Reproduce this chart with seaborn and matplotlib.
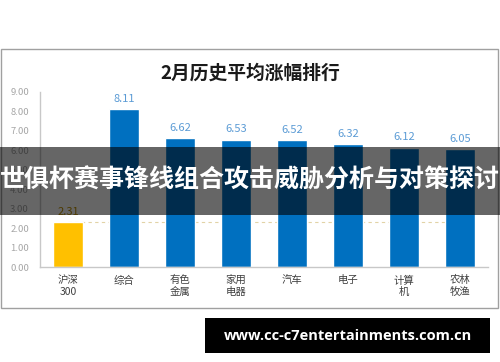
import matplotlib
matplotlib.use('Agg')
import matplotlib.pyplot as plt
import seaborn as sns
from matplotlib.patches import Rectangle

categories = ['沪深\n300', '综合', '有色\n金属', '家用\n电器', '汽车', '电子', '计算\n机', '农林\n牧渔']
values = [2.31, 8.11, 6.62, 6.53, 6.52, 6.32, 6.12, 6.05]
bar_colors = ['#FFC000'] + ['#0070C0'] * 7
label_colors = ['#BF9000'] + ['#5B9BD5'] * 7
y_ticks = [0, 1, 2, 3, 4, 5, 6, 7, 8, 9]

title = '2月历史平均涨幅排行'
banner = '世俱杯赛事锋线组合攻击威胁分析与对策探讨'
url = 'www.cc-c7entertainments.com.cn'

sns.set_style('white')
plt.rcParams['font.family'] = ['Noto Sans CJK SC', 'DejaVu Sans']

fig = plt.figure(figsize=(5, 3.62), dpi=100)
ax = fig.add_axes([0.08, 0.2624, 0.896, 0.4836])

sns.barplot(x=categories, y=values, hue=categories, palette=bar_colors,
            legend=False, width=0.55, saturation=1, ax=ax)

for cont, col in zip(ax.containers, label_colors):
    ax.bar_label(cont, fmt='%.2f', padding=4, color=col, fontsize=8)

# reference line at the index level
ax.hlines(values[0], 0, len(values) - 1, colors='#E2D3A6', linestyles=(0, (3, 3)),
          linewidth=0.8, zorder=0.5)

ax.set_ylim(0, 9)
ax.set_xlim(-0.5, len(values) - 0.5)
ax.set_yticks(y_ticks)
ax.set_yticklabels([f'{t:.2f}' for t in y_ticks], color='#A6A6A6', fontsize=6.8)
ax.tick_params(axis='x', colors='#404040', labelsize=7.5, length=0, pad=6)
ax.tick_params(axis='y', length=0, pad=8)
for s in ['top', 'right']:
    ax.spines[s].set_visible(False)
for s in ['left', 'bottom']:
    ax.spines[s].set_color('#C8C8C8')
    ax.spines[s].set_linewidth(1)
ax.set_facecolor('none')

# chart frame and title
fig.patches.append(Rectangle((0.002, 0.149), 0.994, 0.716, transform=fig.transFigure,
                             fill=False, edgecolor='#A0A0A0', linewidth=1, zorder=0))
fig.text(0.5, 0.797, title, ha='center', va='center', fontsize=13.5, fontweight='bold',
         color='#1A1A1A')

# banner overlay
fig.patches.append(Rectangle((0, 0.406), 1, 0.188, transform=fig.transFigure,
                             facecolor='black', alpha=0.6, edgecolor='none', zorder=5))
fig.text(0.5, 0.5, banner, ha='center', va='center', fontsize=18, fontweight='bold',
         color='white', zorder=6)

# url box
fig.patches.append(Rectangle((0.41, 0.025), 0.57, 0.096, transform=fig.transFigure,
                             facecolor='black', edgecolor='none', zorder=5))
fig.text(0.695, 0.073, url, ha='center', va='center', fontsize=10.5, fontweight='bold',
         color='white', family=['Open Sans', 'DejaVu Sans'], zorder=6)

fig.savefig('out.png', dpi=100, facecolor='white')
